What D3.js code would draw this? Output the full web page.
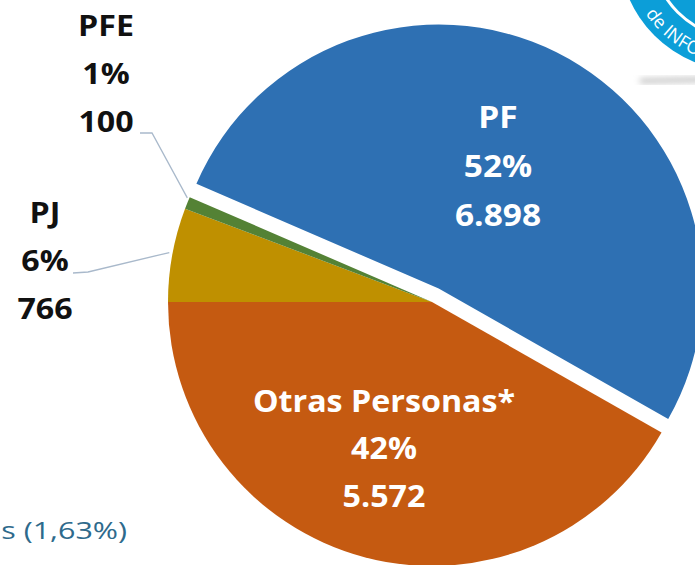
<!DOCTYPE html>
<html>
<head>
<meta charset="utf-8">
<script src="https://cdn.jsdelivr.net/npm/d3@7"></script>
<style>
  html, body { margin: 0; padding: 0; background: #ffffff; }
  svg { display: block; }
  text { font-family: "Open Sans", "Noto Sans", sans-serif; }
</style>
</head>
<body>
<svg id="chart" width="695" height="565"></svg>
<script>
// ---- data ----
const categories = ["PF", "Otras Personas*", "PJ", "PFE"];
const values = [6898, 5572, 766, 100];
const colors = ["#2e70b3", "#c55a11", "#bf9000", "#548235"];
const explode = [15, 0, 0, 0];
const footnote = "s (1,63%)";
const logoText = "de INFO";

// ---- layout ----
const W = 695, H = 565;
const cx = 432, cy = 302, R = 264;
const startDeg = -66.6;

const svg = d3.select("#chart");
const total = d3.sum(values);
const locale = d3.formatLocale({ decimal: ",", thousands: ".", grouping: [3], currency: ["", ""] });
const fmtNum = locale.format(",d");
const fmtPct = v => Math.round(v / total * 100) + "%";

const pie = d3.pie().sort(null).value(d => d.value)
  .startAngle(startDeg * Math.PI / 180)
  .endAngle(startDeg * Math.PI / 180 + 2 * Math.PI);
const data = categories.map((c, i) => ({ cat: c, value: values[i], color: colors[i], explode: explode[i] }));
const arcs = pie(data);
const arcGen = d3.arc().innerRadius(0).outerRadius(R);

const g = svg.append("g").attr("transform", `translate(${cx},${cy})`);
g.selectAll("path.slice").data(arcs).enter().append("path")
  .attr("class", "slice")
  .attr("d", arcGen)
  .attr("fill", d => d.data.color)
  .attr("transform", d => {
    const m = (d.startAngle + d.endAngle) / 2;
    return `translate(${Math.sin(m) * d.data.explode},${-Math.cos(m) * d.data.explode})`;
  });

// point on the arc edge at a slice's middle angle (absolute coords)
function edgePoint(d) {
  const m = (d.startAngle + d.endAngle) / 2;
  return [cx + Math.sin(m) * R, cy - Math.cos(m) * R];
}

function labelBlock(x, baselines, lines, fill, size, weight, sx) {
  lines.forEach((t, i) => {
    svg.append("g").attr("transform", `translate(${x},${baselines[i]}) scale(${sx},1)`)
      .append("text")
      .attr("text-anchor", "middle")
      .attr("fill", fill)
      .attr("font-size", size)
      .attr("font-weight", weight)
      .text(t);
  });
}

const byCat = {};
arcs.forEach(a => byCat[a.data.cat] = a);

// ---- labels inside (white) ----
const pf = byCat["PF"].data;
labelBlock(498, [128, 177, 226], [pf.cat, fmtPct(pf.value), fmtNum(pf.value)], "#ffffff", 31, 700, 1.08);
const ot = byCat["Otras Personas*"].data;
labelBlock(384, [412, 459, 507], [ot.cat, fmtPct(ot.value), fmtNum(ot.value)], "#ffffff", 31, 700, 1.04);

// ---- outside labels (black) with leader lines ----
const pfe = byCat["PFE"];
labelBlock(106, [36, 84, 132], [pfe.data.cat, fmtPct(pfe.data.value), fmtNum(pfe.data.value)], "#111111", 28, 700, 1.15);
const pj = byCat["PJ"];
labelBlock(45, [223, 271, 319], [pj.data.cat, fmtPct(pj.data.value), fmtNum(pj.data.value)], "#111111", 28, 700, 1.15);

const line = d3.line();
const ePFE = edgePoint(pfe);
svg.append("path").attr("d", line([[140, 133], [152, 133], [ePFE[0], ePFE[1] - 5]]))
  .attr("fill", "none").attr("stroke", "#a9b9cb").attr("stroke-width", 1.3);
const ePJ = edgePoint(pj);
svg.append("path").attr("d", line([[73, 273], [88, 272], [ePJ[0] - 3, ePJ[1] - 2]]))
  .attr("fill", "none").attr("stroke", "#a9b9cb").attr("stroke-width", 1.3);

// ---- footnote fragment ----
svg.append("g").attr("transform", "translate(127,539) scale(1.27,1)")
  .append("text").attr("text-anchor", "end")
  .attr("fill", "#2e6a8c").attr("font-size", 24)
  .text(footnote);

// ---- logo fragment (top-right) ----
const defs = svg.append("defs");
const blur = defs.append("filter").attr("id", "blur").attr("x", "-20%").attr("y", "-200%").attr("width", "140%").attr("height", "500%");
blur.append("feGaussianBlur").attr("stdDeviation", 3);
svg.append("line").attr("x1", 640).attr("y1", 81).attr("x2", 720).attr("y2", 79)
  .attr("stroke", "#b5b5b5").attr("stroke-width", 4).attr("filter", "url(#blur)");

const lx = 740, ly = -50, lr = 121;
svg.append("circle").attr("cx", lx).attr("cy", ly).attr("r", lr).attr("fill", "#0c9ed8");
svg.append("circle").attr("cx", lx).attr("cy", ly).attr("r", 88).attr("fill", "none")
  .attr("stroke", "#ffffff").attr("stroke-width", 3);
const tr = 114;
const a0 = 146 * Math.PI / 180, a1 = 40 * Math.PI / 180;
defs.append("path").attr("id", "logoArc")
  .attr("d", `M${lx + tr * Math.cos(a0)},${ly + tr * Math.sin(a0)} A${tr},${tr} 0 0 0 ${lx + tr * Math.cos(a1)},${ly + tr * Math.sin(a1)}`);
svg.append("text").attr("fill", "#ffffff").attr("font-size", 18)
  .append("textPath").attr("href", "#logoArc").attr("startOffset", 0)
  .text(logoText);
</script>
</body>
</html>
